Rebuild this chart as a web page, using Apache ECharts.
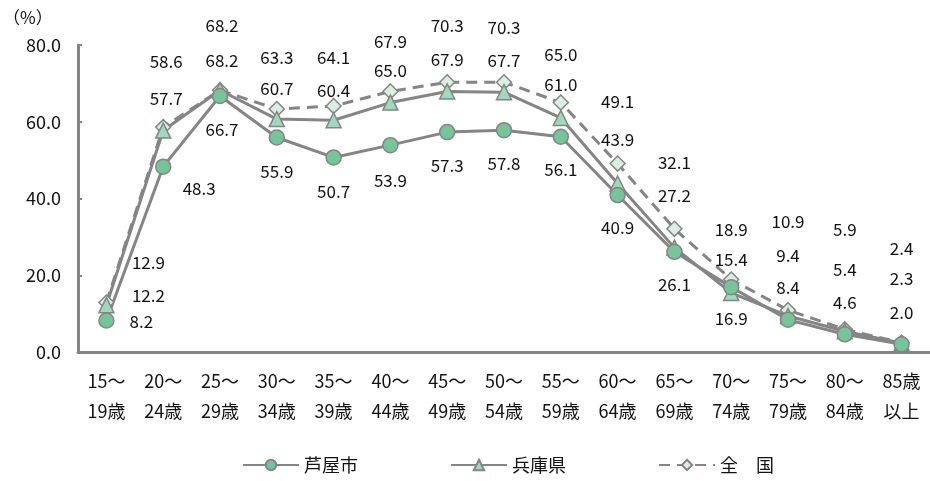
<!DOCTYPE html>
<html>
<head>
<meta charset="utf-8">
<script src="https://cdn.jsdelivr.net/npm/echarts@6/dist/echarts.min.js"></script>
<style>
html,body{margin:0;padding:0;background:#fff;}
#c{width:930px;height:481px;}
</style>
</head>
<body>
<div id="c"></div>
<script>
// ---- data ----
const categories = ['15～\n19歳','20～\n24歳','25～\n29歳','30～\n34歳','35～\n39歳','40～\n44歳','45～\n49歳','50～\n54歳','55～\n59歳','60～\n64歳','65～\n69歳','70～\n74歳','75～\n79歳','80～\n84歳','85歳\n以上'];
const seriesNames = ['芦屋市','兵庫県','全　国'];
const ashiya = [8.2,48.3,66.7,55.9,50.7,53.9,57.3,57.8,56.1,40.9,26.1,16.9,8.4,4.6,2.0];
const hyogo  = [12.2,57.7,68.2,60.7,60.4,65.0,67.9,67.7,61.0,43.9,27.2,15.4,9.4,5.4,2.3];
const zenkoku= [12.9,58.6,68.2,63.3,64.1,67.9,70.3,70.3,65.0,49.1,32.1,18.9,10.9,5.9,2.4];
const yTicks = {min:0,max:80,interval:20};

// ---- label layout (pixel offsets from each point) ----
const offAshiya = [[35,1],[36,22],[2,34],[0,34],[0,34],[0,35],[0,33],[0,33],[0,33],[0,33],[0,33],[0,31],[0,-32],[0,-32],[0,-32]];
const offHyogo  = [[42,-10],[3,-32],[2,-30],[0,-31],[0,-30],[0,-32],[0,-32],[0,-32],[0,-33],[0,-44],[0,-52],[0,-33],[0,-60],[0,-62],[0,-65]];
const offZen    = [[42,-40],[3,-66],[2,-65],[0,-52],[0,-48],[0,-50],[0,-57],[0,-55],[0,-48],[0,-62],[0,-66],[0,-50],[0,-89],[0,-100],[0,-94]];

const FONT = '"Noto Sans CJK JP","Noto Sans",sans-serif';
const GRAY = '#858585';

function withLabels(vals, offs){
  return vals.map((v,i)=>({value:v,label:{offset:offs[i]}}));
}
function mkSeries(name, vals, offs, symbol, size, fill, dashed){
  return {
    name, type:'line', data: withLabels(vals, offs),
    symbol, symbolSize:size,
    lineStyle:{color:GRAY,width:3,type:dashed?[11,7]:'solid'},
    itemStyle:{color:fill,borderColor:GRAY,borderWidth:1.5},
    label:{show:true,position:'inside',color:'#111',fontSize:17,fontFamily:FONT,
      formatter:p=>Number(p.value).toFixed(1)},
    emphasis:{disabled:true},
    animation:false
  };
}

const chart = echarts.init(document.getElementById('c'));
chart.setOption({
  backgroundColor:'#fff',
  animation:false,
  title:{text:'（%）',left:-2,top:4,textStyle:{fontSize:17,fontWeight:'normal',color:'#111',fontFamily:FONT}},
  grid:{left:78,top:45,width:861,height:307,containLabel:false},
  legend:{
    bottom:2,left:237,
    itemWidth:56,itemHeight:13,itemGap:92,
    textStyle:{fontSize:18,color:'#111',fontFamily:FONT},
    data:seriesNames
  },
  xAxis:{
    type:'category',data:categories,
    axisLine:{lineStyle:{color:GRAY,width:3}},
    axisTick:{inside:true,length:4,lineStyle:{color:GRAY,width:2}},
    axisLabel:{color:'#111',fontSize:18,fontFamily:FONT,lineHeight:30,margin:14,interval:0}
  },
  yAxis:{
    type:'value',min:yTicks.min,max:yTicks.max,interval:yTicks.interval,
    axisLine:{show:true,lineStyle:{color:GRAY,width:3}},
    axisTick:{show:true,inside:true,length:4,lineStyle:{color:GRAY,width:2}},
    splitLine:{show:false},
    axisLabel:{color:'#111',fontSize:18,fontFamily:FONT,margin:17,formatter:v=>v.toFixed(1)}
  },
  series:[
    mkSeries(seriesNames[2], zenkoku, offZen, 'diamond', 15, '#d9efe3', true),
    mkSeries(seriesNames[1], hyogo, offHyogo, 'triangle', 15, '#9fd8bd', false),
    mkSeries(seriesNames[0], ashiya, offAshiya, 'circle', 15, '#77c39a', false)
  ]
});
</script>
</body>
</html>
